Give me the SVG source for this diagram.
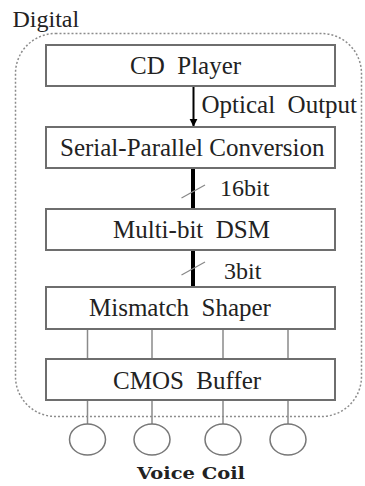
<svg xmlns="http://www.w3.org/2000/svg" width="365" height="486" viewBox="0 0 365 486">
<style>
.box{fill:#fff;stroke:#6e6e6e;stroke-width:2}
.t{font-family:'Liberation Serif',serif;font-size:25px;fill:#222;white-space:pre}
.wire{stroke:#8a8a8a;stroke-width:1.5;fill:none}
.coil{fill:#fff;stroke:#777;stroke-width:1.5}
.bus{stroke:#000;stroke-width:4}
.slash{stroke:#888;stroke-width:1.2}
</style>
<defs>
<marker id="ah" viewBox="0 0 10 10" refX="9" refY="5" markerWidth="4" markerHeight="5" orient="auto" markerUnits="strokeWidth"><path d="M0,0 L10,5 L0,10 z" fill="#000"/></marker>
</defs>
<g id="digital-region">
<rect x="15.5" y="33.5" width="346" height="383" rx="40" ry="40" fill="none" stroke="#8c8c8c" stroke-width="1.5" stroke-dasharray="2 2"/>
<text class="t" x="12.5" y="26.5" font-family="Liberation Serif, serif" style="font-size:24px">Digital</text>
</g>
<g id="connectors">
<line x1="193.5" y1="86" x2="193.5" y2="126" stroke="#000" stroke-width="2" marker-end="url(#ah)"/>
<line class="bus" x1="193" y1="168" x2="193" y2="209"/>
<line class="slash" x1="181.5" y1="198" x2="205" y2="185"/>
<line class="bus" x1="193" y1="250" x2="193" y2="287"/>
<line class="slash" x1="181.5" y1="275" x2="205" y2="262"/>
<line class="wire" x1="87.5" y1="329" x2="87.5" y2="359"/>
<line class="wire" x1="152" y1="329" x2="152" y2="359"/>
<line class="wire" x1="223" y1="329" x2="223" y2="359"/>
<line class="wire" x1="288" y1="329" x2="288" y2="359"/>
<line class="wire" x1="87.5" y1="400" x2="87.5" y2="424"/>
<line class="wire" x1="152" y1="400" x2="152" y2="424"/>
<line class="wire" x1="223" y1="400" x2="223" y2="424"/>
<line class="wire" x1="288" y1="400" x2="288" y2="424"/>
<text class="t" x="201.5" y="113" font-family="Liberation Serif, serif" xml:space="preserve">Optical  Output</text>
<text class="t" x="220" y="196" font-family="Liberation Serif, serif" style="font-size:24px">16bit</text>
<text class="t" x="224" y="278.5" font-family="Liberation Serif, serif" style="font-size:24px">3bit</text>
</g>
<g id="cd-player">
<rect class="box" x="46" y="45" width="289" height="41"/>
<text class="t" x="130" y="73.5" font-family="Liberation Serif, serif" xml:space="preserve">CD  Player</text>
</g>
<g id="serial-parallel">
<rect class="box" x="46" y="127" width="289" height="41"/>
<text class="t" x="60" y="155.5" font-family="Liberation Serif, serif">Serial-Parallel Conversion</text>
</g>
<g id="dsm">
<rect class="box" x="46" y="209" width="289" height="41"/>
<text class="t" x="113" y="237.5" font-family="Liberation Serif, serif" xml:space="preserve">Multi-bit  DSM</text>
</g>
<g id="mismatch-shaper">
<rect class="box" x="46" y="287" width="289" height="42"/>
<text class="t" x="89" y="315.5" font-family="Liberation Serif, serif" xml:space="preserve">Mismatch  Shaper</text>
</g>
<g id="cmos-buffer">
<rect class="box" x="46" y="359" width="289" height="41"/>
<text class="t" x="113" y="388.5" font-family="Liberation Serif, serif" xml:space="preserve">CMOS  Buffer</text>
</g>
<g id="voice-coils">
<ellipse class="coil" cx="87.5" cy="439.5" rx="18" ry="15.5"/>
<ellipse class="coil" cx="152" cy="439.5" rx="18" ry="15.5"/>
<ellipse class="coil" cx="223" cy="439.5" rx="18" ry="15.5"/>
<ellipse class="coil" cx="288" cy="439.5" rx="18" ry="15.5"/>
<text x="137" y="478.5" font-family="DejaVu Serif, Liberation Serif, serif" font-weight="bold" font-size="16" fill="#222" textLength="108" lengthAdjust="spacingAndGlyphs">Voice Coil</text>
</g>
</svg>
